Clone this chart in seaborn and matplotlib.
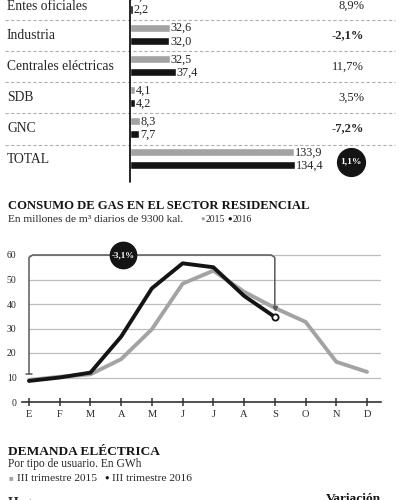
import matplotlib
matplotlib.use("Agg")
import matplotlib.pyplot as plt
import seaborn as sns
import pandas as pd
import numpy as np

# ---------------- data ----------------
categories = ["Entes oficiales", "Industria", "Centrales eléctricas", "SDB", "GNC", "TOTAL"]
gas_2015 = [2.0, 32.6, 32.5, 4.1, 8.3, 133.9]
gas_2016 = [2.2, 32.0, 37.4, 4.2, 7.7, 134.4]
variacion = ["8,9%", "-2,1%", "11,7%", "3,5%", "-7,2%", "1,1%"]

months = ["E", "F", "M", "A", "M", "J", "J", "A", "S", "O", "N", "D"]
res_2015 = [9.0, 10.3, 11.3, 17.5, 29.7, 48.3, 53.6, 45.0, 38.4, 32.7, 16.4, 12.3]
res_2016 = [8.6, 10.0, 12.0, 26.7, 46.4, 56.6, 55.0, 43.3, 34.7]
yticks = [0, 10, 20, 30, 40, 50, 60]
var_res = "-3,1%"

GRAY = "#a3a3a3"
BLACK = "#141414"
TXT = "#262626"
SERIF = ["Liberation Serif", "DejaVu Serif"]

sns.set_theme(style="white")
plt.rcParams["font.family"] = SERIF

W, H = 400, 500
fig = plt.figure(figsize=(4, 5), dpi=100)
fig.patch.set_facecolor("white")

def fx(x):
    return x / W

def fy(y):
    return 1 - y / H

# ---------------- top: horizontal bars ----------------
top_h = 185
ax1 = fig.add_axes([0, fy(top_h), 1, top_h / H])
px_per_unit = 1.228
x0 = 130
xlim = (-x0 / px_per_unit, (W - x0) / px_per_unit)
row_px = 31.1
row0 = 3.0
ylim = ((top_h - row0) / row_px, (0 - row0) / row_px)

df1 = pd.DataFrame({
    "cat": categories * 2,
    "val": gas_2015 + gas_2016,
    "year": ["2015"] * len(categories) + ["2016"] * len(categories),
})
sns.barplot(data=df1, y="cat", x="val", hue="year", orient="h",
            palette=[GRAY, BLACK], width=0.84, gap=0.38, ax=ax1,
            legend=False, saturation=1)
ax1.set_xlim(*xlim)
ax1.set_ylim(*ylim)
ax1.axis("off")

off = 0.21
for i, c in enumerate(categories):
    ly = i + (0.1 if i == 0 else 0.04)
    ax1.text(xlim[0] + 7 / px_per_unit, ly, c, ha="left", va="center",
             fontsize=9.8, color=TXT)
    for v, d in ((gas_2015[i], -off), (gas_2016[i], off)):
        ax1.text(v + 0.6, i + d + 0.02, f"{v:.1f}".replace(".", ","), ha="left",
                 va="center", fontsize=8.8, color=TXT)
    if i < len(categories) - 1:
        bold = variacion[i].startswith("-")
        ax1.text((364 - x0) / px_per_unit, ly, variacion[i], ha="right",
                 va="center", fontsize=9.0, color=TXT,
                 fontweight="bold" if bold else "normal")
        ax1.plot([xlim[0] + 5 / px_per_unit, xlim[1] - 5 / px_per_unit],
                 [i + 0.55, i + 0.55], color="#b0b0b0", lw=0.8,
                 ls=(0, (3, 2)))

# axis line
ax1.plot([0, 0], [ylim[1], (182 - row0) / row_px], color=BLACK, lw=1.3)
# total circle
ci = len(categories) - 1
ax1.scatter([(351 - x0) / px_per_unit], [ci + 0.11], s=400, color=BLACK,
            zorder=5, clip_on=False)
ax1.text((351 - x0) / px_per_unit, ci + 0.11, variacion[-1], color="white",
         fontsize=6.8, fontweight="bold", ha="center", va="center", zorder=6)

# ---------------- middle: line chart ----------------
fig.text(fx(8), fy(209), "CONSUMO DE GAS EN EL SECTOR RESIDENCIAL",
         fontsize=9.1, fontweight="bold", color=BLACK, va="baseline")
fig.text(fx(8), fy(221.5), "En millones de m³ diarios de 9300 kal.",
         fontsize=8.2, color=TXT, va="baseline")
fig.text(fx(200), fy(219), "●", fontsize=5.5, color=GRAY, va="center")
fig.text(fx(206), fy(221.5), "2015", fontsize=7.0, color=TXT, va="baseline")
fig.text(fx(227), fy(219), "●", fontsize=5.5, color=BLACK, va="center")
fig.text(fx(233), fy(221.5), "2016", fontsize=7.0, color=TXT, va="baseline")

ax_l, ax_r = 22, 381
y_bot, y_top = 402, 248
ax2 = fig.add_axes([fx(ax_l), fy(y_bot), (ax_r - ax_l) / W, (y_bot - y_top) / H])
mpx = (367 - 29) / 11
xl = (-(29 - ax_l) / mpx, 11 + (ax_r - 367) / mpx)
ypu = (402 - 255) / 60
ax2.set_xlim(*xl)
ax2.set_ylim(0, (y_bot - y_top) / ypu)

for yv in yticks[1:]:
    ax2.plot([0, xl[1]], [yv, yv], color="#bdbdbd", lw=0.9, zorder=1)

df2 = pd.DataFrame({
    "m": list(range(len(res_2015))) + list(range(len(res_2016))),
    "val": res_2015 + res_2016,
    "year": ["2015"] * len(res_2015) + ["2016"] * len(res_2016),
})
sns.lineplot(data=df2, x="m", y="val", hue="year", palette=[GRAY, BLACK],
             linewidth=2.8, legend=False, ax=ax2, zorder=3)
for ln in ax2.get_lines()[-2:]:
    ln.set_solid_capstyle("round")
    ln.set_solid_joinstyle("round")
last = len(res_2016) - 1
ax2.plot([last], [res_2016[last]], marker="o", ms=4.5, mfc="white",
         mec=BLACK, mew=1.3, zorder=5)

# bracket
bx = [0, 0, 0.12, 8 - 0.12, 8, 8]
by = [11.5, 59, 60, 60, 59, 38.5]
ax2.plot(bx, by, color="#5a5a5a", lw=1.1, zorder=4, clip_on=False)
ax2.plot([-0.1, 0.1], [11.5, 11.5], color="#5a5a5a", lw=1.1, zorder=4)
ax2.plot([8], [38.5], marker="v", ms=3, color="#5a5a5a", zorder=4)
cx = (123 - ax_l) / mpx + xl[0]
ax2.scatter([cx], [60], s=360, color=BLACK, zorder=6, clip_on=False)
ax2.text(cx, 60, var_res, color="white", fontsize=6.4, fontweight="bold",
         ha="center", va="center", zorder=7)

for s in ["top", "right", "left"]:
    ax2.spines[s].set_visible(False)
ax2.spines["bottom"].set_color("#333333")
ax2.spines["bottom"].set_linewidth(1.2)
ax2.set_xticks(range(12))
ax2.set_xticklabels(months, fontsize=7.5, color=TXT)
ax2.set_yticks(yticks)
ax2.set_yticklabels([str(v) for v in yticks], fontsize=7, color=TXT)
ax2.tick_params(axis="x", direction="inout", length=6, width=1.1,
                color="#333333", pad=2.5, bottom=True)
ax2.tick_params(axis="y", length=0, pad=4, left=False)
ax2.set_xlabel("")
ax2.set_ylabel("")
ax2.grid(False)
ax2.set_facecolor("none")

# ---------------- bottom: headings ----------------
fig.text(fx(8), fy(455), "DEMANDA ELÉCTRICA", fontsize=9.6,
         fontweight="bold", color=BLACK, va="baseline")
fig.text(fx(8), fy(467.5), "Por tipo de usuario. En GWh", fontsize=8.3,
         color=TXT, va="baseline")
fig.text(fx(9), fy(478), "■", fontsize=5.5, color=GRAY, va="center")
fig.text(fx(17), fy(481), "III trimestre 2015", fontsize=8.2, color=TXT,
         va="baseline")
fig.text(fx(104), fy(478), "●", fontsize=5.5, color=BLACK, va="center")
fig.text(fx(112), fy(481), "III trimestre 2016", fontsize=8.2, color=TXT,
         va="baseline")
fig.text(fx(381), fy(502.5), "Variación", fontsize=9.6, fontweight="bold",
         color=BLACK, ha="right", va="baseline")
fig.text(fx(8), fy(507), "Hogares", fontsize=9.8, fontweight="bold",
         color=TXT, va="baseline")

fig.savefig("out.png", dpi=100, facecolor="white")
